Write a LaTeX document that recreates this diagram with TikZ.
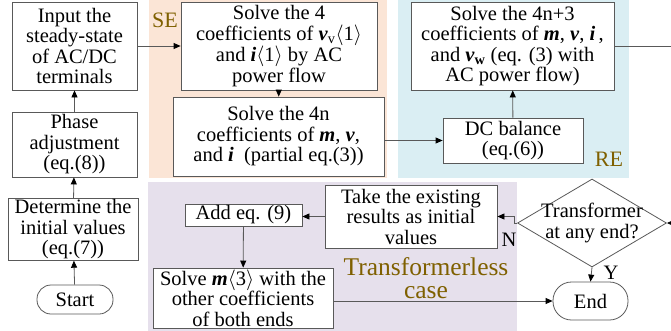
\documentclass[tikz,border=0pt]{standalone}
\usepackage{fontspec}
\setmainfont{Liberation Serif}
\usepackage{xcolor}
\definecolor{cLine}{HTML}{595959}
\definecolor{cSE}{HTML}{FBE5D6}
\definecolor{cRE}{HTML}{DAEEF3}
\definecolor{cTL}{HTML}{E6E0EC}
\definecolor{cTag}{HTML}{7F6000}
\usepackage{tikz}
\usetikzlibrary{positioning,arrows.meta,shapes.geometric}
\newcommand{\boxfont}{\fontsize{20.5}{20.5}\selectfont}
\newcommand{\bv}[1]{\textbf{\textit{#1}}}
\newcommand{\ang}[1]{\ensuremath{\langle}#1\ensuremath{\rangle}}
\tikzset{
  node-box/.style={draw=cLine,fill=white,line width=0.8pt,align=center,
    inner sep=1pt,font=\boxfont},
  node-term/.style={node-box,rounded corners=14pt},
  node-decision/.style={draw=cLine,fill=white,line width=0.8pt,diamond,
    inner sep=0pt},
  node-tag/.style={text=cTag,align=center},
  arrow/.style={-{Triangle[length=7pt,width=6pt,color=black]},draw=cLine,
    line width=0.8pt},
}

\begin{document}
\begin{tikzpicture}[x=1pt,y=-1pt]
  \useasboundingbox (0,0) rectangle (671,330);
  % regions
  \fill[cSE] (149,0) rectangle (387,178);
  \fill[cRE] (398,0) rectangle (629,178);
  \fill[cTL] (148,182) rectangle (517,340);
  \node[node-tag,font=\fontsize{22}{22}\selectfont] (tag-se) at (165,20) {SE};
  \node[node-tag,font=\fontsize{22}{22}\selectfont] (tag-re) at (609,159) {RE};
  \node[node-tag,font=\fontsize{25.5}{23}\selectfont] (tag-tl) at (426,278)
    {Transformerless\\case};

  % left column
  \node[node-term,minimum width=76pt,minimum height=29pt] (start) at (75,299.5) {Start};
  \node[node-box,minimum width=130pt,minimum height=61pt] (init) at (73,229.5)
    {Determine the\\initial values\\(eq.(7))};
  \node[node-box,minimum width=125pt,minimum height=65pt] (phase) at (74.5,144.5)
    {Phase\\adjustment\\(eq.(8))};
  \node[node-box,minimum width=125pt,minimum height=88pt] (input) at (74.5,46)
    {Input the\\steady-state\\of AC/DC\\terminals};

  % SE
  \node[node-box,minimum width=196pt,minimum height=88pt] (se-ac) at (279,46)
    {Solve the 4\\coefficients of \bv{v}\textsubscript{v}\ang{1}\\
     and \bv{i}\ang{1} by AC\\power flow};
  \node[node-box,minimum width=211pt,minimum height=79pt] (se-all) at (278.5,136.5)
    {Solve the 4n\\coefficients of \bv{m}, \bv{v},\\
     and \bv{i}\enspace(partial eq.(3))};

  % RE
  \node[node-box,minimum width=140pt,minimum height=45pt] (re-dc) at (513,140.5)
    {DC balance\\(eq.(6))};
  \node[node-box,minimum width=203pt,minimum height=88pt] (re-all) at (512.5,46)
    {Solve the 4n+3\\coefficients of \bv{m}, \bv{v}, \bv{i}\,,\\
     and \bv{v}\textsubscript{\bfseries w} (eq. (3) with\\AC power flow)};

  % transformer check
  \node[node-decision,minimum width=149pt,minimum height=88pt,
    label={[align=center,font=\boxfont]center:Transformer\\at any end?}]
    (trafo) at (592,223) {};
  \node[node-term,rounded corners=18.5pt,minimum width=75pt,minimum height=38pt]
    (end) at (590.5,301) {End};
  \node[node-box,minimum width=172pt,minimum height=63pt] (take) at (411,216.5)
    {Take the existing\\results as initial\\values};
  \node[node-box,minimum width=117pt,minimum height=22pt] (add) at (243.5,215)
    {Add eq. (9)};
  \node[node-box,minimum width=180pt,minimum height=60pt] (solve-m) at (243,298)
    {Solve \bv{m}\ang{3} with the\\other coefficients\\of both ends};
  \node[font=\boxfont] (lbl-n) at (509,240) {N};
  \node[font=\boxfont] (lbl-y) at (611,273) {Y};

  \draw[arrow] (start) -- (init);
  \draw[arrow] (init) -- (phase);
  \draw[arrow] (phase) -- (input);
  \draw[arrow] (input) -- (se-ac);
  \draw[arrow] (se-ac) -- (se-all);
  \draw[arrow] (se-all.east |- re-dc.west) -- (re-dc.west);
  \draw[arrow] (re-dc) -- (re-all);
  \draw[arrow] (re-all.east) -- ++(80,0) |- (trafo.east);
  \draw[arrow] (trafo.west) -- ++(-3,0) |- (take.east);
  \draw[arrow] (trafo.south) -- (end.north);
  \draw[arrow] (take.west) -- (take.west -| add.east);
  \draw[arrow] (add) -- (solve-m);
  \draw[arrow] (solve-m.east |- end.west) -- (end.west);
\end{tikzpicture}
\end{document}
